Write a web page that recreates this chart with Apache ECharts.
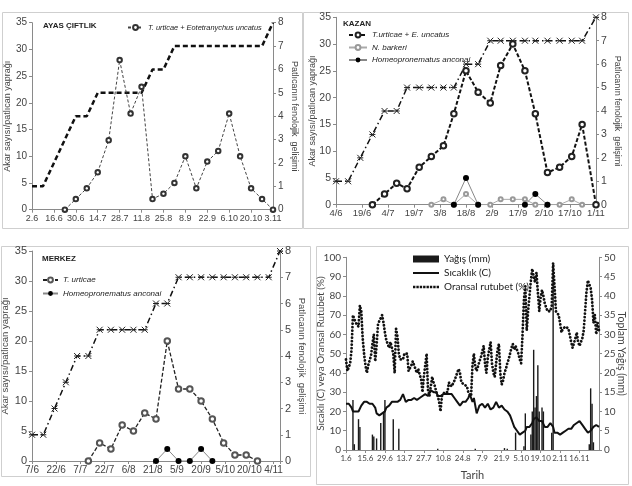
<!DOCTYPE html>
<html>
<head>
<meta charset="utf-8">
<script src="https://cdn.jsdelivr.net/npm/echarts@6/dist/echarts.min.js"></script>
<style>
  html, body { margin: 0; padding: 0; background: #fff; }
  #chart { width: 632px; height: 486px; }
</style>
</head>
<body>
<div id="chart"></div>
<script>
// ---- AYAS ÇIFTLIK (weekly samples, day 0 = 2.6) ----
const ayasLabels = ["2.6", "16.6", "30.6", "14.7", "28.7", "11.8", "25.8", "8.9", "22.9", "6.10", "20.10", "3.11"];
const ayasDays = [0, 7, 14, 21, 28, 35, 42, 49, 56, 63, 70, 77, 84, 91, 98, 105, 112, 119, 126, 133, 140, 147, 154];
const ayasMites = [null, null, null, 0, 2, 4, 7, 13, 28, 18, 23, 2, 3, 5, 10, 4, 9, 11, 18, 10, 4, 2, 0];
const ayasPheno = [1, 1, 2, 3, 4, 4, 5, 5, 5, 5, 5, 6, 6, 7, 7, 7, 7, 7, 7, 7, 7, 7, 8];

// ---- KAZAN (day 0 = 4/6) ----
const kazanLabels = ["4/6", "19/6", "4/7", "19/7", "3/8", "18/8", "2/9", "17/9", "2/10", "17/10", "1/11"];
const kazanDays = [0, 7, 14, 21, 28, 35, 41, 48, 55, 62, 68, 75, 82, 89, 95, 102, 109, 115, 122, 129, 136, 142, 150];
const kazanMites = [null, null, null, 0, 2, 4, 3, 7, 9, 11, 17, 25, 21, 19, 26, 30, 25, 17, 6, 7, 9, 15, 0];
const kazanPheno = [1, 1, 2, 3, 4, 4, 5, 5, 5, 5, 5, 6, 6, 7, 7, 7, 7, 7, 7, 7, 7, 7, 8];
const kazanBarkeri = [null, null, null, null, null, null, null, null, 0, 1, 0, 2, 0, 0, 1, 1, 1, 0, 0, 0, 1, 0, null];
const kazanHomeo = [null, null, null, null, null, null, null, null, null, null, 0, 5, 0, null, null, null, 0, 2, 0, null, null, null, null];

// ---- MERKEZ (weekly samples, day 0 = 7/6) ----
const merkezLabels = ["7/6", "22/6", "7/7", "22/7", "6/8", "21/8", "5/9", "20/9", "5/10", "20/10", "4/11"];
const merkezDays = [0, 7, 14, 21, 28, 35, 42, 49, 56, 63, 70, 77, 84, 91, 98, 105, 112, 119, 126, 133, 140, 147, 154];
const merkezMites = [null, null, null, null, null, 0, 3, 2, 6, 5, 8, 7, 20, 12, 12, 10, 7, 3, 1, 1, 0, null, null];
const merkezPheno = [1, 1, 2, 3, 4, 4, 5, 5, 5, 5, 5, 6, 6, 7, 7, 7, 7, 7, 7, 7, 7, 7, 8];
const merkezHomeo = [null, null, null, null, null, null, null, null, null, null, null, 0, 2, 0, 0, 2, 0, null, null, null, null, null, null];

// ---- Meteorology (daily, day 0 = 1.6) ----
const meteoLabels = ["1.6", "15.6", "29.6", "13.7", "27.7", "10.8", "24.8", "7.9", "21.9", "5.10", "19.10", "2.11", "16.11", "30.11"];
const humidity = [
  47, 41, 43, 45, 52, 70, 68, 66, 67, 64, 75, 72, 58, 50, 44, 40, 44, 44, 49, 55,
  60, 46, 54, 65, 67, 68, 70, 66, 61, 57, 55, 53, 56, 57, 50, 40, 63, 59, 50, 47,
  47, 47, 50, 49, 50, 41, 41, 44, 46, 46, 42, 40, 42, 39, 37, 30, 38, 44, 50, 31,
  28, 33, 38, 35, 33, 30, 28, 25, 20, 28, 28, 30, 29, 30, 35, 34, 33, 33, 36, 38,
  40, 42, 40, 35, 35, 34, 34, 33, 30, 29, 28, 44, 50, 43, 41, 42, 46, 48, 51, 54,
  45, 40, 48, 52, 56, 45, 40, 38, 45, 52, 55, 40, 34, 36, 40, 42, 45, 47, 50, 53,
  55, 52, 54, 55, 50, 47, 45, 60, 78, 85, 62, 72, 80, 88, 94, 90, 87, 92, 82, 72,
  79, 83, 80, 76, 74, 72, 72, 72, 75, 97, 85, 72, 71, 70, 66, 61, 63, 64, 64, 63,
  63, 62, 56, 53, 54, 58, 61, 56, 54, 53, 58, 62, 72, 82, 88, 86, 84, 78, 66, 70,
  60, 66, 62
];
const temperature = [
  24, 24, 24, 23, 22, 20, 19, 20, 21, 20, 21, 23, 24, 25, 26, 25, 25, 24, 23, 24,
  24, 22, 19, 18, 18, 18, 19, 19, 20, 22, 22, 23, 24, 25, 24, 25, 26, 25, 24, 26,
  27, 29, 27, 25, 25, 26, 25, 26, 27, 27, 26, 26, 27, 27, 28, 28, 27, 29, 30, 28,
  29, 31, 32, 30, 29, 30, 28, 29, 28, 29, 29, 30, 29, 30, 29, 28, 29, 28, 27, 26,
  25, 24, 23, 24, 25, 26, 25, 26, 27, 29, 28, 25, 27, 28, 19, 21, 23, 22, 24, 25,
  22, 23, 24, 25, 21, 20, 22, 23, 25, 24, 22, 23, 23, 22, 21, 21, 20, 20, 18, 16,
  14, 12, 11, 10, 9, 8, 8, 9, 8, 10, 12, 13, 12, 12, 14, 16, 16, 17, 16, 15,
  14, 15, 14, 12, 11, 12, 13, 14, 14, 12, 9, 8, 9, 9, 8, 9, 9, 10, 10, 11,
  11, 12, 11, 12, 13, 13, 14, 15, 15, 14, 13, 12, 11, 10, 9, 8, 10, 11, 12, 13,
  13, 12, 12
];
const rainDays = [5, 6, 9, 10, 19, 20, 22, 25, 27, 28, 34, 38, 66, 93, 114, 116, 122, 128, 129, 133, 134, 135, 136, 137, 138, 139, 141, 142, 148, 149, 175, 176, 177, 178];
const rainMm = [13, 1.5, 8, 6, 4, 3.5, 3, 7, 10, 13, 8, 5.5, 0.3, 0.3, 0.5, 0.3, 4.5, 1, 9.5, 4, 10, 26, 11, 14, 22, 10, 11, 10, 4.5, 48, 1.5, 16, 12, 2];

const FONT = "'Liberation Sans', Arial, sans-serif";
const NARROW = "'Liberation Sans Narrow', 'Liberation Sans', sans-serif";
const LATO = "Lato, 'Open Sans', sans-serif";
const AXIS = "#8a8a8a";
const TXT = "#444";

const pair = (days, vals) => days.map((d, i) => [d, vals[i]]);
const markX = "path://M0,0L8,8M8,0L0,8M0,4L8,4";
const solidIcon = "path://M0,0L26,0L26,2L0,2Z";
const dotIcon = "path://M0,0h2.4v2.4h-2.4zM3.4,0h2.4v2.4h-2.4zM6.8,0h2.4v2.4h-2.4zM10.2,0h2.4v2.4h-2.4zM13.6,0h2.4v2.4h-2.4zM17,0h2.4v2.4h-2.4zM20.4,0h2.4v2.4h-2.4zM23.8,0h2.4v2.4h-2.4z";

function xAx(gridIndex, max, interval, labels, family, size) {
  return {
    type: "value", gridIndex, min: 0, max, interval,
    axisLine: { lineStyle: { color: AXIS } },
    axisTick: { show: true, length: 3, lineStyle: { color: AXIS } },
    splitLine: { show: false },
    axisLabel: {
      fontSize: size, fontFamily: family, color: TXT, margin: 4,
      formatter: (v) => (v % interval === 0 ? labels[v / interval] : "")
    }
  };
}

function yAx(gridIndex, position, max, interval, name, gap, family, size, nameSize) {
  return {
    type: "value", gridIndex, position, min: 0, max, interval,
    name, nameLocation: "middle", nameGap: gap, nameMoveOverlap: false,
    nameRotate: position === "right" ? -90 : 90,
    nameTextStyle: { fontSize: nameSize, fontFamily: family, color: TXT },
    axisLine: { show: true, lineStyle: { color: AXIS } },
    axisTick: { show: true, length: 3, lineStyle: { color: AXIS } },
    splitLine: { show: false },
    axisLabel: { fontSize: size, fontFamily: family, color: TXT, margin: 5 }
  };
}

const akar = "Akar sayısı/patlıcan yaprağı";
const feno = "Patlıcanın fenolojik  gelişimi";

const legendText = { fontSize: 8, fontFamily: FONT, fontStyle: "italic", color: "#222" };

const option = {
  animation: false,
  backgroundColor: "#fff",
  grid: [
    { left: 32, top: 22.7, width: 241, height: 187, outerBoundsMode: "none" },
    { left: 336, top: 17.3, width: 260, height: 187.4, outerBoundsMode: "none" },
    { left: 32, top: 251, width: 248, height: 210, outerBoundsMode: "none" },
    { left: 346, top: 257.3, width: 253, height: 192.7, outerBoundsMode: "none" }
  ],
  xAxis: [
    xAx(0, 154, 14, ayasLabels, NARROW, 9),
    xAx(1, 150, 15, kazanLabels, NARROW, 9.5),
    xAx(2, 154, 15, merkezLabels, NARROW, 10),
    Object.assign(xAx(3, 182, 14, meteoLabels, LATO, 8), {
      name: "Tarih", nameLocation: "middle", nameGap: 20, nameMoveOverlap: false,
      nameTextStyle: { fontSize: 11, fontFamily: LATO, color: TXT }
    })
  ],
  yAxis: [
    yAx(0, "left", 35, 5, akar, 20, FONT, 10, 9),
    yAx(0, "right", 8, 1, feno, 17, FONT, 10, 9),
    yAx(1, "left", 35, 5, akar, 19, FONT, 10.5, 9),
    yAx(1, "right", 8, 1, feno, 17, FONT, 10.5, 9),
    yAx(2, "left", 35, 5, akar, 22, FONT, 11, 9.5),
    yAx(2, "right", 8, 1, feno, 17, FONT, 11, 9.5),
    yAx(3, "left", 100, 10, "Sıcaklı (C) veya Oransal Rutubet (%)", 20, LATO, 10, 10),
    yAx(3, "right", 50, 5, "Toplam Yağış (mm)", 17, LATO, 10, 10.5)
  ],
  legend: [
    {
      left: 127, top: 24, padding: 0, itemWidth: 15, itemHeight: 6, itemGap: 5,
      data: ["T. urticae + Eotetranychus uncatus"],
      textStyle: Object.assign({}, legendText, { fontSize: 7.4 })
    },
    {
      left: 348, top: 31, padding: 0, orient: "vertical", itemWidth: 18, itemHeight: 6, itemGap: 4.5,
      data: ["T.urticae + E. uncatus", "N. barkeri", "Homeopronematus anconai"], textStyle: legendText
    },
    {
      left: 42, top: 276, padding: 0, orient: "vertical", itemWidth: 15, itemHeight: 6, itemGap: 5.5,
      data: ["T. urticae", "Homeopronematus anconai"], textStyle: legendText
    },
    {
      left: 413, top: 253, padding: 0, orient: "vertical", itemWidth: 26, itemHeight: 7, itemGap: 2,
      data: [
        { name: "Yağış (mm)", icon: "rect" },
        { name: "Sıcaklık (C)", icon: solidIcon },
        { name: "Oransal rutubet (%)", icon: dotIcon }
      ],
      textStyle: { fontSize: 10, lineHeight: 12, fontFamily: LATO, color: "#222" }
    }
  ],
  graphic: [
    { type: "rect", shape: { x: 2.5, y: 12.5, width: 300, height: 216 }, style: { fill: "none", stroke: "#cfcfcf", lineWidth: 1 } },
    { type: "rect", shape: { x: 303.5, y: 12.5, width: 325, height: 216 }, style: { fill: "none", stroke: "#cfcfcf", lineWidth: 1 } },
    { type: "rect", shape: { x: 1.5, y: 246.5, width: 309, height: 230 }, style: { fill: "none", stroke: "#cfcfcf", lineWidth: 1 } },
    { type: "rect", shape: { x: 316.5, y: 246.5, width: 312, height: 238 }, style: { fill: "none", stroke: "#cfcfcf", lineWidth: 1 } },
    { type: "text", left: 43, top: 22, style: { text: "AYAS ÇIFTLIK", font: "bold 8px " + NARROW, fill: "#222" } },
    { type: "text", left: 343, top: 20, style: { text: "KAZAN", font: "bold 8px " + NARROW, fill: "#222" } },
    { type: "text", left: 42, top: 255, style: { text: "MERKEZ", font: "bold 8px " + NARROW, fill: "#222" } }
  ],
  series: [
    // Ayas
    {
      type: "line", xAxisIndex: 0, yAxisIndex: 1, data: pair(ayasDays, ayasPheno),
      symbol: "none", lineStyle: { color: "#111", width: 2.5, type: [5, 3] }, z: 2
    },
    {
      name: "T. urticae + Eotetranychus uncatus", type: "line", xAxisIndex: 0, yAxisIndex: 0,
      data: pair(ayasDays, ayasMites), symbol: "emptyCircle", symbolSize: 4.5,
      itemStyle: { color: "#333", borderColor: "#333", borderWidth: 1 },
      lineStyle: { color: "#444", width: 1, type: [3, 2] }, z: 3
    },
    // Kazan
    {
      type: "line", xAxisIndex: 1, yAxisIndex: 3, data: pair(kazanDays, kazanPheno),
      symbol: markX, symbolSize: 6,
      itemStyle: { color: "#fff", borderColor: "#222", borderWidth: 1 },
      lineStyle: { color: "#111", width: 1.5, type: [6, 3, 1.5, 3] }, z: 2
    },
    {
      name: "T.urticae + E. uncatus", type: "line", xAxisIndex: 1, yAxisIndex: 2,
      data: pair(kazanDays, kazanMites), symbol: "emptyCircle", symbolSize: 5.5,
      itemStyle: { color: "#222", borderColor: "#222", borderWidth: 1 },
      lineStyle: { color: "#111", width: 2, type: [4, 2] }, z: 3
    },
    {
      name: "N. barkeri", type: "line", xAxisIndex: 1, yAxisIndex: 2,
      data: pair(kazanDays, kazanBarkeri), symbol: "emptyCircle", symbolSize: 4,
      itemStyle: { color: "#999", borderColor: "#999", borderWidth: 0.8 },
      lineStyle: { color: "#aaa", width: 1 }, z: 3
    },
    {
      name: "Homeopronematus anconai", type: "line", xAxisIndex: 1, yAxisIndex: 2,
      data: pair(kazanDays, kazanHomeo), symbol: "circle", symbolSize: 6,
      itemStyle: { color: "#000" },
      lineStyle: { color: "#888", width: 1 }, z: 4
    },
    // Merkez
    {
      type: "line", xAxisIndex: 2, yAxisIndex: 5, data: pair(merkezDays, merkezPheno),
      symbol: markX, symbolSize: 6,
      itemStyle: { color: "#fff", borderColor: "#222", borderWidth: 1 },
      lineStyle: { color: "#111", width: 1.5, type: [6, 3, 1.5, 3] }, z: 2
    },
    {
      name: "T. urticae", type: "line", xAxisIndex: 2, yAxisIndex: 4,
      data: pair(merkezDays, merkezMites), symbol: "emptyCircle", symbolSize: 5.5,
      itemStyle: { color: "#555", borderColor: "#555", borderWidth: 0.9 },
      lineStyle: { color: "#222", width: 1.3, type: [4, 2] }, z: 3
    },
    {
      name: "Homeopronematus anconai", type: "line", xAxisIndex: 2, yAxisIndex: 4,
      data: pair(merkezDays, merkezHomeo), symbol: "circle", symbolSize: 6,
      itemStyle: { color: "#000" },
      lineStyle: { color: "#888", width: 1 }, z: 4
    },
    // Meteorology
    {
      name: "Yağış (mm)", type: "bar", xAxisIndex: 3, yAxisIndex: 7,
      data: pair(rainDays, rainMm), barWidth: 1.4, itemStyle: { color: "#1a1a1a" }, z: 2
    },
    {
      name: "Sıcaklık (C)", type: "line", xAxisIndex: 3, yAxisIndex: 6,
      data: temperature.map((v, i) => [i, v]), symbol: "none",
      itemStyle: { color: "#111" }, lineStyle: { color: "#111", width: 2 }, z: 3
    },
    {
      name: "Oransal rutubet (%)", type: "line", xAxisIndex: 3, yAxisIndex: 6,
      data: humidity.map((v, i) => [i, v]), symbol: "none",
      itemStyle: { color: "#111" },
      lineStyle: { color: "#111", width: 2.8, type: [0.1, 3.4], cap: "round" }, z: 3
    }
  ]
};

const chart = echarts.init(document.getElementById("chart"));
chart.setOption(option);
</script>
</body>
</html>
